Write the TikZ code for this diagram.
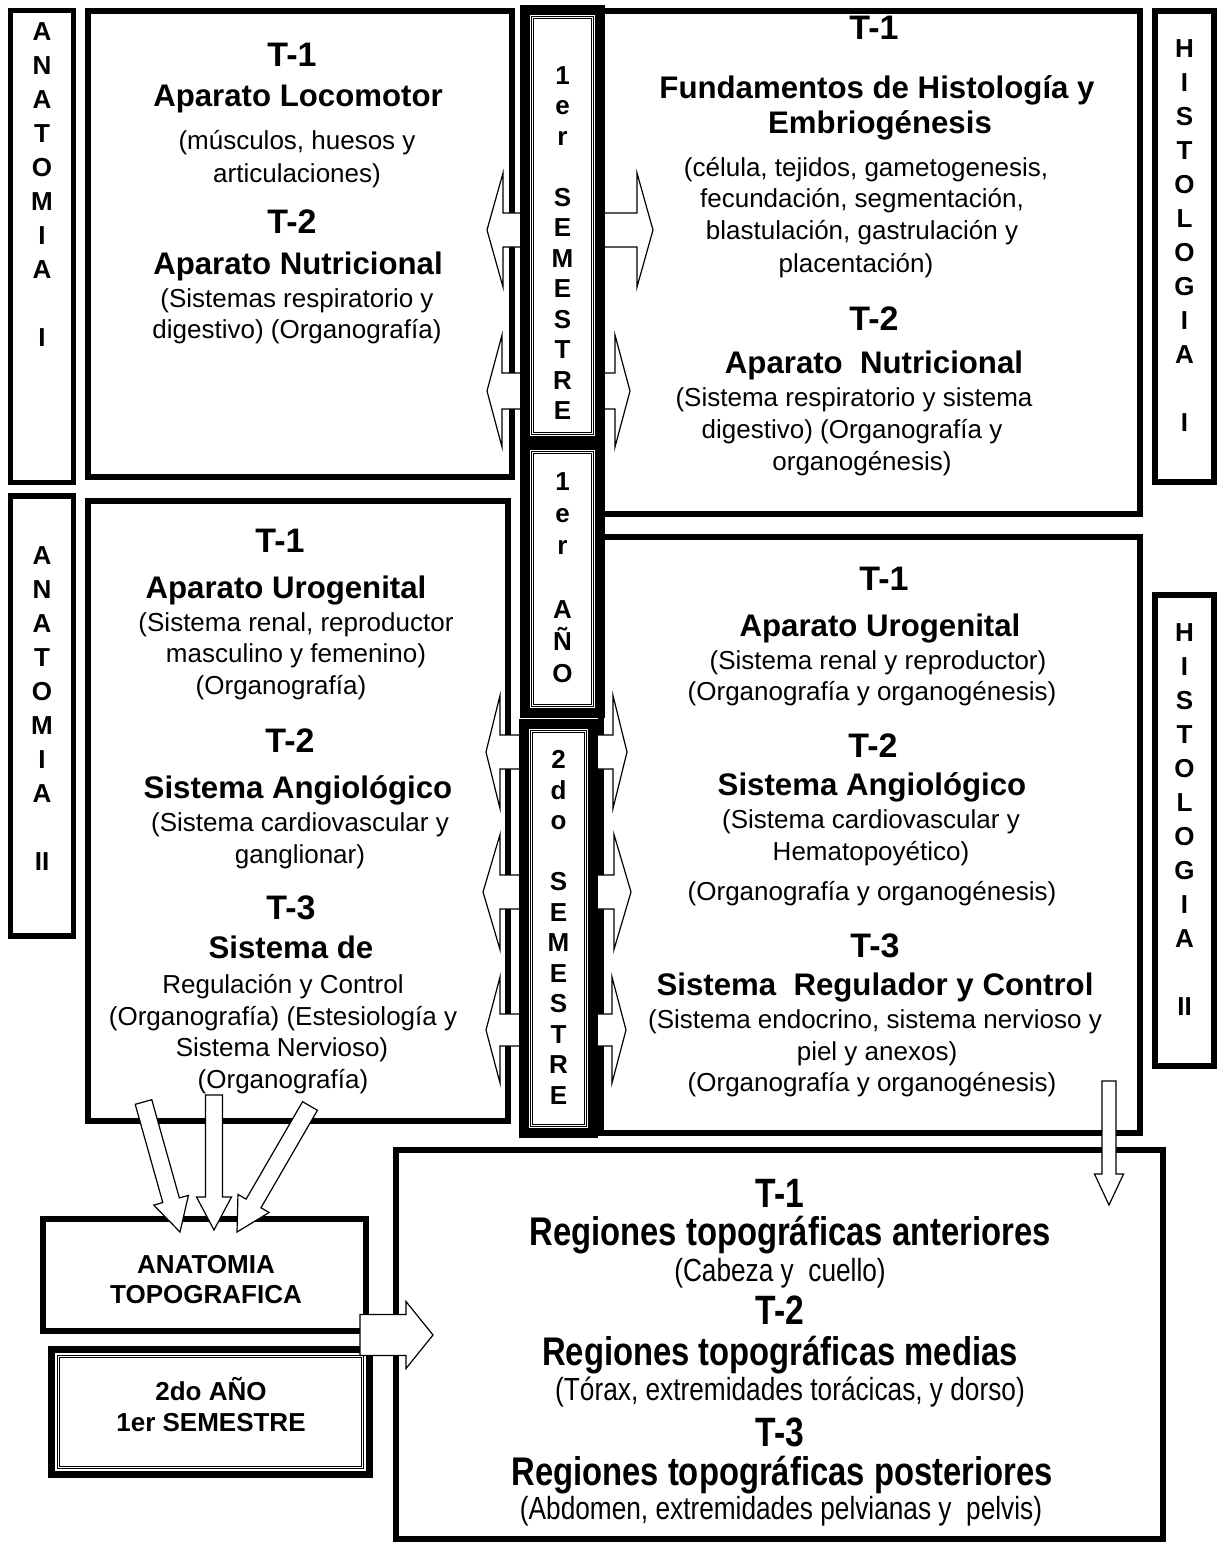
\documentclass[tikz,border=0pt]{standalone}
\usepackage{fontspec}
\setmainfont{Liberation Sans}
\newfontfamily\narrowsans[FakeStretch=0.82]{Liberation Sans}
\usetikzlibrary{calc}

% block arrow: start, tip, head length, head half width, shaft half width
\newcommand{\blkarrow}[5]{%
  \coordinate (#2h) at ($(#2)!#3!(#1)$);
  \draw[blockarrow] ($(#1)!#5!90:(#2)$) -- ($(#2h)!#5!-90:(#1)$) -- ($(#2h)!#4!-90:(#1)$) -- (#2)
    -- ($(#2h)!#4!90:(#1)$) -- ($(#2h)!#5!90:(#1)$) -- ($(#1)!#5!-90:(#2)$) -- cycle;}
% double block arrow: left tip, right tip, head length, head half width, shaft half width
\newcommand{\dblarrow}[5]{%
  \coordinate (#1h) at ($(#1)!#3!(#2)$);
  \coordinate (#2h) at ($(#2)!#3!(#1)$);
  \draw[blockarrow] (#1) -- ($(#1h)!#4!90:(#2)$) -- ($(#1h)!#5!90:(#2)$) -- ($(#2h)!#5!-90:(#1)$)
    -- ($(#2h)!#4!-90:(#1)$) -- (#2) -- ($(#2h)!#4!90:(#1)$) -- ($(#2h)!#5!90:(#1)$)
    -- ($(#1h)!#5!-90:(#2)$) -- ($(#1h)!#4!-90:(#2)$) -- cycle;}

\begin{document}
\begin{tikzpicture}[x=0.5pt, y=-0.5pt]

  % ===== Styles =====
  \tikzset{
    panel/.style={draw, line width=2.6pt, inner sep=0pt},
    sidebox/.style={draw, line width=2.6pt, inner sep=0pt},
    yearbox/.style={draw, line width=5pt, fill=white, inner sep=0pt},
    yearline/.style={draw, double, double distance=0.5pt, line width=0.5pt, inner sep=0pt},
    blockarrow/.style={draw, fill=white, line width=0.6pt, line join=miter},
    vstack/.style={align=center, inner sep=0pt, font=\fontsize{13}{#1}\selectfont\bfseries},
    tnum/.style={anchor=base, inner sep=0pt, font=\fontsize{17}{20}\selectfont\bfseries},
    thead/.style={anchor=base, inner sep=0pt, font=\fontsize{15.6}{18}\selectfont\bfseries},
    tbody/.style={anchor=base, inner sep=0pt, font=\fontsize{13}{15.5}\selectfont},
    ntnum/.style={anchor=base, inner sep=0pt, font=\narrowsans\fontsize{20.5}{24}\selectfont\bfseries},
    nhead/.style={anchor=base, inner sep=0pt, font=\narrowsans\fontsize{20}{24}\selectfont\bfseries},
    nbody/.style={anchor=base, inner sep=0pt, font=\narrowsans\fontsize{16}{19}\selectfont}
  }

  \useasboundingbox (0,0) rectangle (1219,1546);

  % ===== Side labels and panels =====
  \node[sidebox, minimum width=31.5pt, minimum height=236pt] (labA1) at (42,246.5) {};
  \node[sidebox, minimum width=31.5pt, minimum height=220pt] (labA2) at (42,716) {};
  \node[sidebox, minimum width=29.5pt, minimum height=235.5pt] (labH1) at (1184.5,246.5) {};
  \node[sidebox, minimum width=29.5pt, minimum height=235.5pt] (labH2) at (1184.5,830.5) {};

  \node[panel, minimum width=212pt, minimum height=233pt] (anaI) at (300,244) {};
  \node[panel, minimum width=210pt, minimum height=310pt] (anaII) at (298,811) {};
  \node[panel, minimum width=269.5pt, minimum height=251.5pt] (hisI) at (870.5,262.5) {};
  \node[panel, minimum width=269.5pt, minimum height=298pt] (hisII) at (870.5,835) {};

  % ===== Arrows through the middle column =====
  \coordinate (aL) at (487,230);  \coordinate (aR) at (653,230);
  \dblarrow{aL}{aR}{8pt}{28.5pt}{8.5pt}
  \coordinate (bL) at (487,391);  \coordinate (bR) at (630,391);
  \dblarrow{bL}{bR}{7.5pt}{28pt}{9pt}
  \coordinate (cL) at (486,752);  \coordinate (cR) at (627,752);
  \dblarrow{cL}{cR}{7pt}{28.25pt}{8.5pt}
  \coordinate (dL) at (483,892);  \coordinate (dR) at (631,892);
  \dblarrow{dL}{dR}{8.5pt}{28.75pt}{8.5pt}
  \coordinate (eL) at (486,1030); \coordinate (eR) at (626,1030);
  \dblarrow{eL}{eR}{7pt}{26.5pt}{8pt}

  % ===== Middle column =====
  \node[yearbox, minimum width=37.5pt, minimum height=215.5pt] (sem1) at (562.5,225.5) {};
  \node[yearline, minimum width=30pt, minimum height=208pt] (sem1in) at (562.5,225.5) {};
  \node[yearbox, minimum width=37.5pt, minimum height=134pt] (ano1) at (562.5,579) {};
  \node[yearline, minimum width=30pt, minimum height=126.5pt] (ano1in) at (562.5,579) {};
  \node[yearbox, minimum width=34.5pt, minimum height=204.5pt] (sem2) at (558.5,928.5) {};
  \node[yearline, minimum width=27pt, minimum height=197pt] (sem2in) at (558.5,928.5) {};

  \node[vstack=15.25pt] (sem1txt) at (562.5,243) {1\\e\\r\\[15.25pt]S\\E\\M\\E\\S\\T\\R\\E};
  \node[vstack=16pt] (ano1txt) at (562.5,578) {1\\e\\r\\[16pt]A\\Ñ\\O};
  \node[vstack=15.25pt] (sem2txt) at (558.5,927.5) {2\\d\\o\\[15.25pt]S\\E\\M\\E\\S\\T\\R\\E};

  \node[vstack=17pt] (labA1txt) at (42,185) {A\\N\\A\\T\\O\\M\\I\\A\\[17pt]I};
  \node[vstack=17pt] (labA2txt) at (42,708.5) {A\\N\\A\\T\\O\\M\\I\\A\\[17pt]II};
  \node[vstack=17pt] (labH1txt) at (1184.5,236) {H\\I\\S\\T\\O\\L\\O\\G\\I\\A\\[17pt]I};
  \node[vstack=17pt] (labH2txt) at (1184.5,820) {H\\I\\S\\T\\O\\L\\O\\G\\I\\A\\[17pt]II};

  % ===== Anatomia I =====
  \node[tnum] (a1t1) at (292,67) {T-1};
  \node[thead] (a1h1) at (298,107) {Aparato Locomotor};
  \node[tbody] (a1b1) at (297,150) {(músculos, huesos y};
  \node[tbody] (a1b2) at (297,183) {articulaciones)};
  \node[tnum] (a1t2) at (292,234) {T-2};
  \node[thead] (a1h2) at (298,274) {Aparato Nutricional};
  \node[tbody] (a1b3) at (297,307) {(Sistemas respiratorio y};
  \node[tbody] (a1b4) at (297,338) {digestivo) (Organografía)};

  % ===== Histologia I =====
  \node[tnum] (h1t1) at (874,40) {T-1};
  \node[thead] (h1h1) at (877,99) {Fundamentos de Histología y};
  \node[thead] (h1h2) at (880,134) {Embriogénesis};
  \node[tbody] (h1b1) at (866,177) {(célula, tejidos, gametogenesis,};
  \node[tbody] (h1b2) at (862,208) {fecundación, segmentación,};
  \node[tbody] (h1b3) at (862,240) {blastulación, gastrulación y};
  \node[tbody] (h1b4) at (856,272) {placentación)};
  \node[tnum] (h1t2) at (874,330) {T-2};
  \node[thead] (h1h3) at (874,373) {Aparato\ \ Nutricional};
  \node[tbody] (h1b5) at (854,406) {(Sistema respiratorio y sistema};
  \node[tbody] (h1b6) at (852,438) {digestivo) (Organografía y};
  \node[tbody] (h1b7) at (862,470) {organogénesis)};

  % ===== Anatomia II =====
  \node[tnum] (a2t1) at (280,552) {T-1};
  \node[thead] (a2h1) at (286,598) {Aparato Urogenital};
  \node[tbody] (a2b1) at (296,631) {(Sistema renal, reproductor};
  \node[tbody] (a2b2) at (296,662) {masculino y femenino)};
  \node[tbody] (a2b3) at (281,694) {(Organografía)};
  \node[tnum] (a2t2) at (290,752) {T-2};
  \node[thead] (a2h2) at (298,798) {Sistema Angiológico};
  \node[tbody] (a2b4) at (300,831) {(Sistema cardiovascular y};
  \node[tbody] (a2b5) at (300,863) {ganglionar)};
  \node[tnum] (a2t3) at (291,919) {T-3};
  \node[thead] (a2h3) at (291,958) {Sistema de};
  \node[tbody] (a2b6) at (283,993) {Regulación y Control};
  \node[tbody] (a2b7) at (283,1025) {(Organografía) (Estesiología y};
  \node[tbody] (a2b8) at (282,1056) {Sistema Nervioso)};
  \node[tbody] (a2b9) at (283,1088) {(Organografía)};

  % ===== Histologia II =====
  \node[tnum] (h2t1) at (884,590) {T-1};
  \node[thead] (h2h1) at (880,636) {Aparato Urogenital};
  \node[tbody] (h2b1) at (878,669) {(Sistema renal y reproductor)};
  \node[tbody] (h2b2) at (872,700) {(Organografía y organogénesis)};
  \node[tnum] (h2t2) at (873,757) {T-2};
  \node[thead] (h2h2) at (872,795) {Sistema Angiológico};
  \node[tbody] (h2b3) at (871,828) {(Sistema cardiovascular y};
  \node[tbody] (h2b4) at (871,860) {Hematopoyético)};
  \node[tbody] (h2b5) at (872,900) {(Organografía y organogénesis)};
  \node[tnum] (h2t3) at (875,957) {T-3};
  \node[thead] (h2h3) at (875,995) {Sistema\ \ Regulador y Control};
  \node[tbody] (h2b6) at (875,1028) {(Sistema endocrino, sistema nervioso y};
  \node[tbody] (h2b7) at (877,1060) {piel y anexos)};
  \node[tbody] (h2b8) at (872,1091) {(Organografía y organogénesis)};

  % ===== Bottom row =====
  \node[panel, minimum width=383.5pt, minimum height=194.5pt] (regs) at (779.5,1344.5) {};
  \node[panel, minimum width=161.5pt, minimum height=56pt] (topo) at (204.5,1275) {};
  \node[yearbox, line width=3.5pt, minimum width=159pt, minimum height=62.5pt] (ano2) at (210.5,1412) {};
  \node[yearline, minimum width=152pt, minimum height=55.5pt] (ano2in) at (210.5,1412) {};

  \node[vstack=15pt] (topotxt) at (206,1280) {ANATOMIA\\TOPOGRAFICA};
  \node[vstack=15.5pt] (ano2txt) at (211,1405) {2do AÑO\\1er SEMESTRE};

  \node[ntnum] (rt1) at (780,1207) {T-1};
  \node[nhead] (rh1) at (790,1245) {Regiones topográficas anteriores};
  \node[nbody] (rb1) at (780,1281) {(Cabeza y\ \ cuello)};
  \node[ntnum] (rt2) at (780,1324) {T-2};
  \node[nhead] (rh2) at (780,1365) {Regiones topográficas medias};
  \node[nbody] (rb2) at (790,1400) {(Tórax, extremidades torácicas, y dorso)};
  \node[ntnum] (rt3) at (780,1446) {T-3};
  \node[nhead] (rh3) at (782,1485) {Regiones topográficas posteriores};
  \node[nbody] (rb3) at (781,1519) {(Abdomen, extremidades pelvianas y\ \ pelvis)};

  % ===== Block arrows =====
  \coordinate (s1) at (143.5,1102); \coordinate (t1) at (180,1232);
  \blkarrow{s1}{t1}{16.5pt}{9pt}{4.3pt}
  \coordinate (s2) at (214,1095);   \coordinate (t2) at (214,1230);
  \blkarrow{s2}{t2}{16.5pt}{8.75pt}{4.25pt}
  \coordinate (s3) at (310,1106);   \coordinate (t3) at (237,1232);
  \blkarrow{s3}{t3}{16.5pt}{9pt}{4.3pt}
  \coordinate (s4) at (360,1335);   \coordinate (t4) at (433,1335);
  \blkarrow{s4}{t4}{13.5pt}{16.75pt}{10.25pt}
  \coordinate (s5) at (1109,1081);  \coordinate (t5) at (1109,1205);
  \blkarrow{s5}{t5}{15.5pt}{7.25pt}{3.5pt}

\end{tikzpicture}
\end{document}
